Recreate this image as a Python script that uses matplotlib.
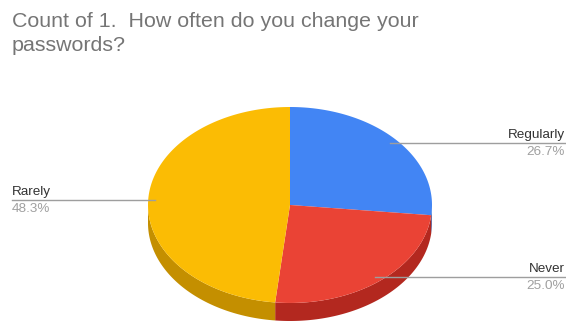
import numpy as np
import matplotlib.pyplot as plt
from matplotlib.patches import Polygon

plt.rcParams['font.family'] = ['Liberation Sans', 'DejaVu Sans']

# data
labels = ['Regularly', 'Never', 'Rarely']
counts = [16, 15, 29]
top_colors = ['#4285f4', '#ea4335', '#fbbc04']
side_colors = ['#2d62b8', '#b3281f', '#c48f00']
title = 'Count of 1.  How often do you change your\npasswords?'

W, H = 566, 323
fig = plt.figure(figsize=(W / 100, H / 100), dpi=100)

depth = 0.184
ax = fig.add_axes([148 / W, 2 / H, 284 / W, 214 / H])
ax.set_xlim(-1, 1)
ax.set_ylim(-1 - depth, 1)
ax.axis('off')

fracs = np.array(counts) / sum(counts)
start = 90.0
for lab, f, ct, cs in zip(labels, fracs, top_colors, side_colors):
    t1 = start
    t2 = start - 360 * f
    th = np.radians(np.linspace(t2, t1, 300))
    # top face
    pts = [(0, 0)] + list(zip(np.cos(th), np.sin(th)))
    ax.add_patch(Polygon(pts, closed=True, facecolor=ct, lw=0, zorder=3))
    # visible side (front half)
    fr = th[np.sin(th) <= 1e-9]
    if len(fr) > 1:
        up = list(zip(np.cos(fr), np.sin(fr)))
        dn = list(zip(np.cos(fr[::-1]), np.sin(fr[::-1]) - depth))
        ax.add_patch(Polygon(up + dn, closed=True, facecolor=cs, lw=0, zorder=2))

    # leader line + labels
    mid = np.radians((t1 + t2) / 2)
    ax0, ay0 = 0.95 * np.cos(mid), 0.95 * np.sin(mid)
    if ax0 > 0:
        xe, ha = (565 - 290) / 142, 'right'
    else:
        xe, ha = (12 - 290) / 142, 'left'
    ax.plot([ax0, xe], [ay0, ay0], color='#9e9e9e', lw=1, clip_on=False, zorder=4)
    ax.annotate(lab, xy=(xe, ay0), xytext=(0, 2), textcoords='offset pixels',
                ha=ha, va='bottom', fontsize=9.7, color='#333333', annotation_clip=False)
    ax.annotate('%.1f%%' % (f * 100), xy=(xe, ay0), xytext=(0, -3), textcoords='offset pixels',
                ha=ha, va='top', fontsize=9.7, color='#a0a0a0', annotation_clip=False)
    start = t2

fig.text(12 / W, 1 - 12 / H, title, ha='left', va='top', fontsize=15.4,
         color='#757575', linespacing=1.32)

fig.savefig('out.png', dpi=100)
